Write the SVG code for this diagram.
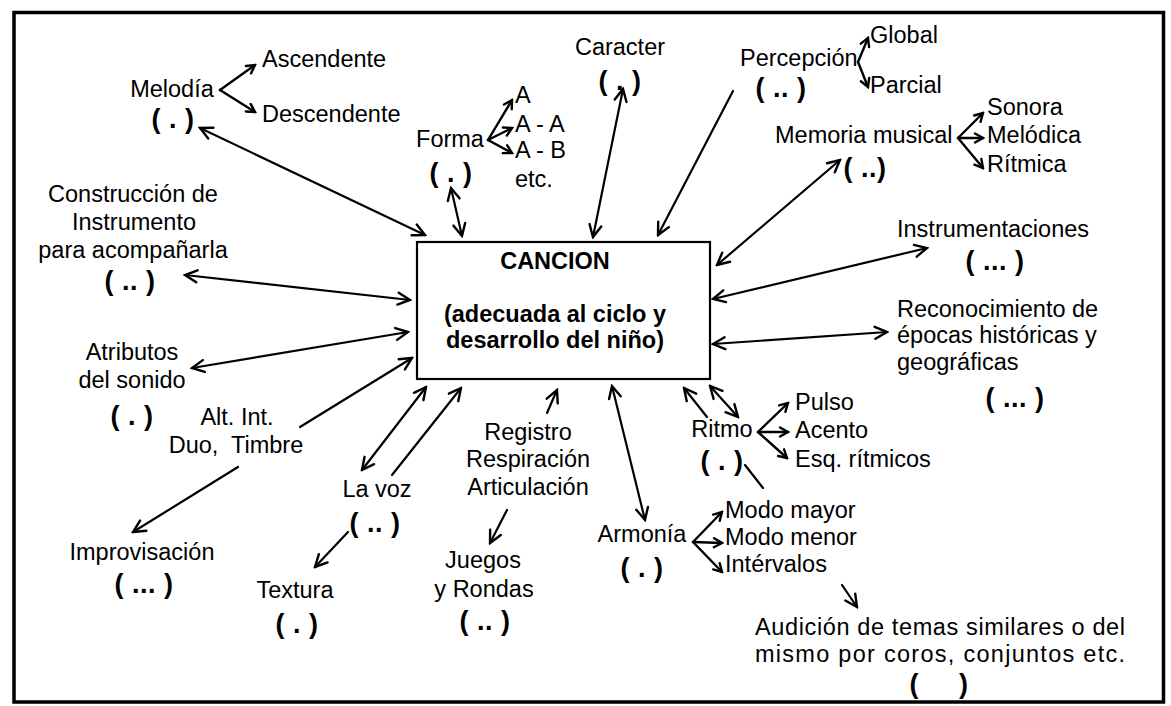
<svg xmlns="http://www.w3.org/2000/svg" width="1171" height="706" viewBox="0 0 1171 706">
<style>
text{font-family:"Liberation Sans",Arial,sans-serif;font-size:23.5px;fill:#000}
.m{text-anchor:middle}
.b{font-weight:bold}
.p{font-weight:bold;font-size:27px;letter-spacing:0.5px;text-anchor:middle;white-space:pre}
.ln{stroke:#000;stroke-width:2.2;fill:none;stroke-linecap:round}
.br{stroke:#000;stroke-width:2.4;fill:none;stroke-linecap:round}
.one{marker-end:url(#ah)}
.two{marker-start:url(#ah);marker-end:url(#ah)}
.sm{marker-end:url(#ahs)}
</style>
<defs>
<marker id="ah" viewBox="-15 -8 17 16" refX="0" refY="0" markerWidth="17" markerHeight="16" markerUnits="userSpaceOnUse" orient="auto-start-reverse">
<path d="M-12,-6 L0,0 L-12,6" fill="none" stroke="#000" stroke-width="2.4" stroke-linecap="round"/>
</marker>
<marker id="ahs" viewBox="-11 -6 13 12" refX="0" refY="0" markerWidth="13" markerHeight="12" markerUnits="userSpaceOnUse" orient="auto-start-reverse">
<path d="M-8,-4.5 L0,0 L-8,4.5" fill="none" stroke="#000" stroke-width="2.4" stroke-linecap="round"/>
</marker>
</defs>
<rect x="14" y="12.5" width="1149.5" height="689.5" fill="#fff" stroke="#000" stroke-width="3.5"/>

<g id="connectors">
<line class="ln two" x1="200" y1="128" x2="425" y2="235"/>
<line class="ln two" x1="451" y1="188" x2="462" y2="236"/>
<line class="ln two" x1="623" y1="89" x2="593" y2="237"/>
<line class="ln one" x1="733" y1="91" x2="658" y2="235"/>
<line class="ln two" x1="840" y1="160" x2="717" y2="265"/>
<line class="ln two" x1="927" y1="248" x2="713" y2="299"/>
<line class="ln two" x1="887" y1="332" x2="713" y2="344"/>
<line class="ln two" x1="185" y1="275" x2="410" y2="300"/>
<line class="ln two" x1="192" y1="368" x2="408" y2="332"/>
<line class="ln one" x1="300" y1="427" x2="412" y2="358"/>
<line class="ln one" x1="238" y1="467" x2="133" y2="532"/>
<line class="ln two" x1="362" y1="470" x2="426" y2="387"/>
<line class="ln one" x1="392" y1="475" x2="461" y2="388"/>
<line class="ln one" x1="348" y1="532" x2="315" y2="567"/>
<line class="ln one" x1="547" y1="413" x2="557" y2="390"/>
<line class="ln one" x1="507" y1="510" x2="490" y2="543"/>
<line class="ln two" x1="612" y1="386" x2="645" y2="520"/>
<line class="ln one" x1="707" y1="417" x2="684" y2="388"/>
<line class="ln two" x1="710" y1="386" x2="738" y2="417"/>
<line class="ln" x1="745" y1="465" x2="763" y2="488"/>
<line class="ln one" x1="842" y1="585" x2="857" y2="607"/>
<line class="br sm" x1="220" y1="90" x2="255" y2="65"/>
<line class="br sm" x1="220" y1="90" x2="255" y2="112"/>
<line class="br sm" x1="488" y1="140" x2="512" y2="100"/>
<line class="br sm" x1="488" y1="140" x2="512" y2="128"/>
<line class="br sm" x1="488" y1="140" x2="512" y2="153"/>
<line class="br sm" x1="858" y1="62" x2="868" y2="38"/>
<line class="br sm" x1="858" y1="62" x2="868" y2="87"/>
<line class="br sm" x1="958" y1="138" x2="983" y2="113"/>
<line class="br sm" x1="958" y1="138" x2="983" y2="138"/>
<line class="br sm" x1="958" y1="138" x2="983" y2="168"/>
<line class="br sm" x1="758" y1="432" x2="788" y2="403"/>
<line class="br sm" x1="758" y1="432" x2="788" y2="432"/>
<line class="br sm" x1="758" y1="432" x2="787" y2="458"/>
<line class="br sm" x1="693" y1="542" x2="722" y2="512"/>
<line class="br sm" x1="693" y1="542" x2="722" y2="543"/>
<line class="br sm" x1="693" y1="542" x2="722" y2="572"/>
</g>

<g id="cancion">
<rect x="417" y="242" width="293" height="137" fill="none" stroke="#000" stroke-width="2.2"/>
<text class="m b" x="555" y="269">CANCION</text>
<text class="m b" x="555" y="322">(adecuada al ciclo y</text>
<text class="m b" x="555" y="348">desarrollo del niño)</text>
</g>

<g id="melodia">
<text class="m" x="172" y="97">Melodía</text>
<text class="p" x="173" y="128">( . )</text>
<text x="262" y="67">Ascendente</text>
<text x="262" y="122">Descendente</text>
</g>

<g id="forma">
<text class="m" x="450" y="147">Forma</text>
<text class="p" x="451" y="182">( . )</text>
<text x="515" y="103">A</text>
<text x="515" y="132">A - A</text>
<text x="515" y="158">A - B</text>
<text x="515" y="187">etc.</text>
</g>

<g id="caracter">
<text class="m" x="620" y="55">Caracter</text>
<text class="p" x="620" y="90">( . )</text>
</g>

<g id="percepcion">
<text x="740" y="66">Percepción</text>
<text class="p" x="781" y="97">( .. )</text>
<text x="870" y="43">Global</text>
<text x="870" y="93">Parcial</text>
</g>

<g id="memoria">
<text x="775" y="143">Memoria musical</text>
<text class="p" x="865" y="177">( ..)</text>
<text x="987" y="115">Sonora</text>
<text x="987" y="143">Melódica</text>
<text x="987" y="172">Rítmica</text>
</g>

<g id="instrumentaciones">
<text x="897" y="237">Instrumentaciones</text>
<text class="p" x="995" y="270">( ... )</text>
</g>

<g id="reconocimiento">
<text x="897" y="317">Reconocimiento de</text>
<text x="897" y="343">épocas históricas y</text>
<text x="897" y="370">geográficas</text>
<text class="p" x="1015" y="407">( ... )</text>
</g>

<g id="construccion">
<text class="m" x="133" y="202">Construcción de</text>
<text class="m" x="134" y="230">Instrumento</text>
<text class="m" x="133" y="258">para acompañarla</text>
<text class="p" x="130" y="290">( .. )</text>
</g>

<g id="atributos">
<text class="m" x="132" y="360">Atributos</text>
<text class="m" x="132" y="388">del sonido</text>
<text class="p" x="132" y="425">( . )</text>
</g>

<g id="alt">
<text class="m" x="237" y="425">Alt. Int.</text>
<text class="m" x="236" y="453" style="white-space:pre">Duo,  Timbre</text>
</g>

<g id="improvisacion">
<text class="m" x="142" y="560">Improvisación</text>
<text class="p" x="144" y="593">( ... )</text>
</g>

<g id="lavoz">
<text class="m" x="377" y="497">La voz</text>
<text class="p" x="375" y="532">( .. )</text>
</g>

<g id="textura">
<text class="m" x="295" y="598">Textura</text>
<text class="p" x="297" y="633">( . )</text>
</g>

<g id="registro">
<text class="m" x="528" y="440">Registro</text>
<text class="m" x="528" y="467">Respiración</text>
<text class="m" x="528" y="495">Articulación</text>
</g>

<g id="juegos">
<text class="m" x="483" y="568">Juegos</text>
<text class="m" x="484" y="597">y Rondas</text>
<text class="p" x="485" y="630">( .. )</text>
</g>

<g id="armonia">
<text class="m" x="642" y="542">Armonía</text>
<text class="p" x="642" y="577">( . )</text>
<text x="725" y="518">Modo mayor</text>
<text x="725" y="545">Modo menor</text>
<text x="725" y="572">Intérvalos</text>
</g>

<g id="ritmo">
<text class="m" x="722" y="437">Ritmo</text>
<text class="p" x="722" y="470">( . )</text>
<text x="795" y="410">Pulso</text>
<text x="795" y="438">Acento</text>
<text x="795" y="467">Esq. rítmicos</text>
</g>

<g id="audicion">
<text x="755" y="635" textLength="370" lengthAdjust="spacing">Audición de temas similares o del</text>
<text x="755" y="662" textLength="370" lengthAdjust="spacing">mismo por coros, conjuntos etc.</text>
<text class="p" x="939" y="693">(     )</text>
</g>
</svg>
